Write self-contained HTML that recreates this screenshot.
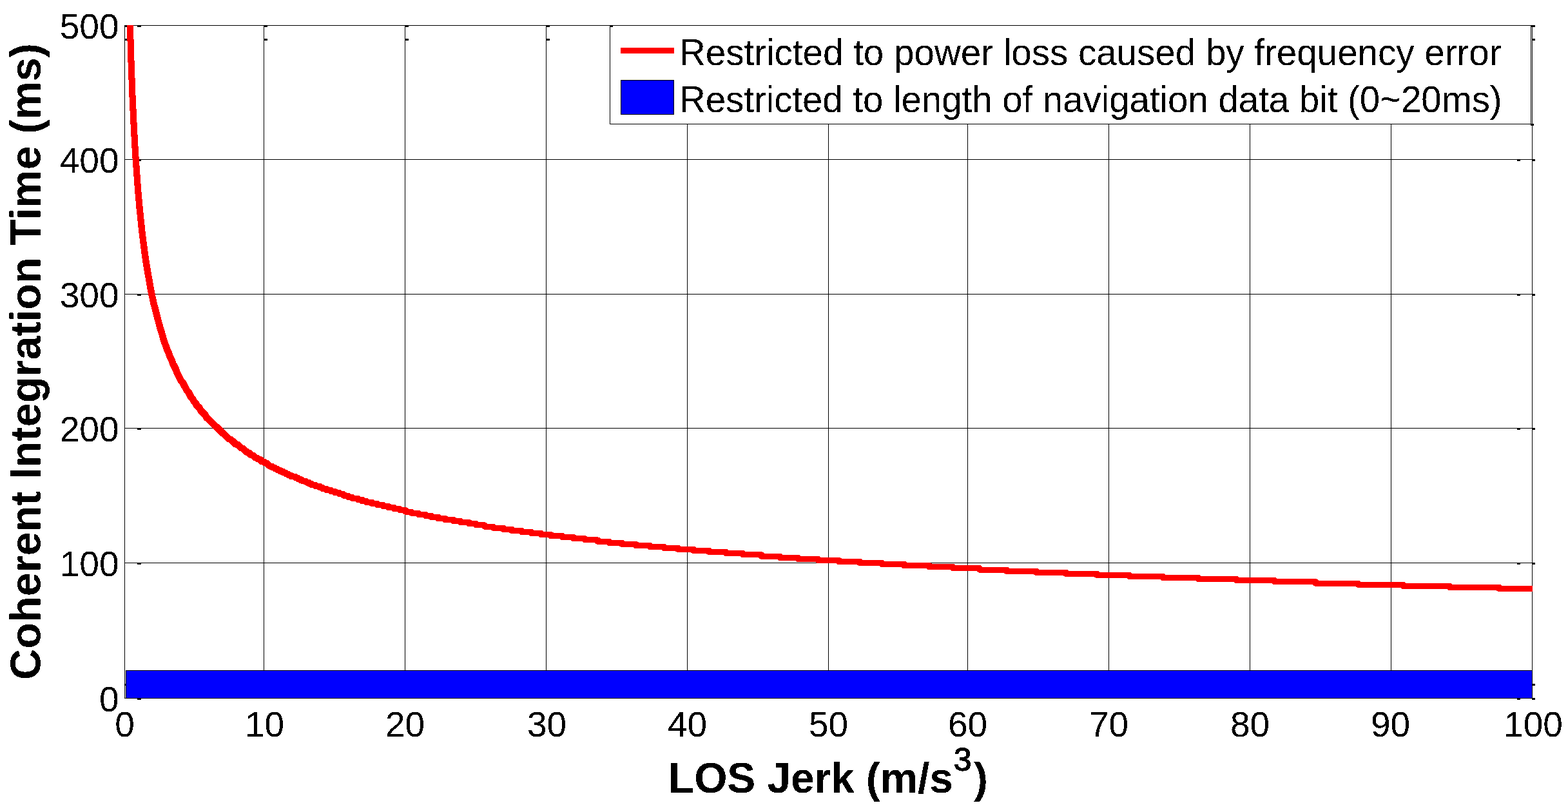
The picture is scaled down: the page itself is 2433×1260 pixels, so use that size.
<!DOCTYPE html>
<html><head><meta charset="utf-8"><style>
html,body{margin:0;padding:0;background:#fff;}
body{width:2433px;height:1260px;overflow:hidden;}
svg{display:block;}
.t{font-family:"Liberation Sans", Arial, sans-serif;}
</style></head><body>
<svg width="2433" height="1260" viewBox="0 0 2433 1260">
<rect width="2433" height="1260" fill="#fff"/>
<defs><filter id="bin" x="0" y="0" width="2433" height="1260" filterUnits="userSpaceOnUse" color-interpolation-filters="sRGB"><feComponentTransfer><feFuncA type="discrete" tableValues="0 1"/></feComponentTransfer></filter><clipPath id="ax"><rect x="193" y="39" width="2185" height="1045"/></clipPath></defs>
<g fill="#000" shape-rendering="crispEdges">
<rect x="409" y="39" width="1" height="1045"/>
<rect x="628" y="39" width="1" height="1045"/>
<rect x="847" y="39" width="1" height="1045"/>
<rect x="1066" y="39" width="1" height="1045"/>
<rect x="1285" y="39" width="1" height="1045"/>
<rect x="1501" y="39" width="1" height="1045"/>
<rect x="1720" y="39" width="1" height="1045"/>
<rect x="1939" y="39" width="1" height="1045"/>
<rect x="2158" y="39" width="1" height="1045"/>
<rect x="193" y="873" width="2185" height="1"/>
<rect x="193" y="664" width="2185" height="1"/>
<rect x="193" y="456" width="2185" height="1"/>
<rect x="193" y="247" width="2185" height="1"/>
</g>
<!-- axes box -->
<g fill="#000" shape-rendering="crispEdges">
<rect x="193" y="39" width="2185" height="1"/>
<rect x="193" y="1083" width="2185" height="1"/>
<rect x="193" y="39" width="1" height="1045"/>
<rect x="2377" y="39" width="1" height="1045"/>
<rect x="193" y="39" width="6" height="3"/>
<rect x="193" y="60" width="6" height="3"/>
<rect x="409" y="39" width="6" height="3"/>
<rect x="409" y="60" width="6" height="3"/>
<rect x="628" y="39" width="6" height="3"/>
<rect x="628" y="60" width="6" height="3"/>
<rect x="847" y="39" width="6" height="3"/>
<rect x="847" y="60" width="6" height="3"/>
<rect x="1066" y="39" width="6" height="3"/>
<rect x="1066" y="60" width="6" height="3"/>
<rect x="1285" y="39" width="6" height="3"/>
<rect x="1285" y="60" width="6" height="3"/>
<rect x="1501" y="39" width="6" height="3"/>
<rect x="1501" y="60" width="6" height="3"/>
<rect x="1720" y="39" width="6" height="3"/>
<rect x="1720" y="60" width="6" height="3"/>
<rect x="1939" y="39" width="6" height="3"/>
<rect x="1939" y="60" width="6" height="3"/>
<rect x="2158" y="39" width="6" height="3"/>
<rect x="2158" y="60" width="6" height="3"/>
<rect x="2377" y="39" width="5" height="3"/>
<rect x="2377" y="60" width="5" height="3"/>
<rect x="193" y="1061" width="2" height="3"/>
<rect x="2377" y="1061" width="5" height="3"/>
<rect x="213" y="1083" width="6" height="3"/>
<rect x="2354" y="1083" width="5" height="3"/>
<rect x="2377" y="1083" width="5" height="3"/>
<rect x="213" y="873" width="6" height="3"/>
<rect x="2354" y="873" width="5" height="3"/>
<rect x="2377" y="873" width="5" height="3"/>
<rect x="213" y="664" width="6" height="3"/>
<rect x="2354" y="664" width="5" height="3"/>
<rect x="2377" y="664" width="5" height="3"/>
<rect x="213" y="456" width="6" height="3"/>
<rect x="2354" y="456" width="5" height="3"/>
<rect x="2377" y="456" width="5" height="3"/>
<rect x="213" y="247" width="6" height="3"/>
<rect x="2354" y="247" width="5" height="3"/>
<rect x="2377" y="247" width="5" height="3"/>
<rect x="213" y="39" width="6" height="3"/>
<rect x="2354" y="39" width="5" height="3"/>
<rect x="2377" y="39" width="5" height="3"/>
</g>
<!-- blue patch -->
<rect x="195" y="1040" width="2183" height="44" fill="#000" shape-rendering="crispEdges"/>
<rect x="196" y="1041" width="2181" height="42" fill="#0000ff" shape-rendering="crispEdges"/>
<!-- red curve -->
<g clip-path="url(#ax)" fill="none" stroke="#ff0000" stroke-width="6" stroke-linejoin="round" stroke-linecap="round" shape-rendering="crispEdges">
<polyline transform="translate(-2,-1.5)" points="199.01,-93.62 201.18,14.54 203.35,91.50 205.52,149.74 207.69,195.50 209.86,235.02 212.03,266.31 214.20,295.57 216.37,320.65 218.54,341.55 220.71,362.45 222.88,379.17 225.05,395.89 227.22,410.52 229.39,423.06 231.56,435.60 233.73,448.14 235.90,458.58 238.07,468.98 240.24,477.30 242.41,485.62 244.58,493.94 246.75,502.26 248.92,510.58 251.09,516.82 253.26,525.14 255.43,531.38 257.60,537.62 259.77,543.86 261.94,548.02 264.11,554.26 266.28,558.42 268.45,564.66 270.62,568.82 272.79,572.98 274.96,579.22 277.13,583.38 279.30,587.54 281.47,591.70 283.64,593.78 285.81,597.94 287.98,602.10 290.15,606.26 292.32,608.34 294.49,612.50 296.66,616.66 298.83,618.74 301.00,622.90 303.17,624.98 305.34,629.14 307.51,631.22 309.68,633.30 311.85,637.46 314.02,639.54 316.19,641.62 318.36,643.70 320.53,647.86 322.70,649.94 324.87,652.02 327.04,654.10 329.21,656.18 331.38,658.26 333.55,660.34 335.72,662.42 337.89,664.50 340.06,666.59 342.23,668.68 344.40,670.77 346.57,672.86 348.74,674.95 350.91,677.04 353.08,679.13 355.25,681.22 357.42,681.22 359.59,683.31 361.76,685.40 363.93,687.49 366.10,689.58 368.27,689.58 370.44,691.67 372.61,693.76 374.78,695.85 376.95,695.85 379.12,697.94 381.29,700.03 383.46,702.12 385.63,702.12 387.80,704.21 389.97,706.30 392.14,706.30 394.31,708.39 396.48,710.48 398.65,710.48 400.82,712.57 402.99,712.57 405.16,714.66 407.33,716.75 409.50,716.75 411.69,718.84 413.88,718.84 416.07,720.93 418.26,723.02 420.45,723.02 422.64,725.11 424.83,725.11 427.02,727.20 429.21,727.20 431.40,729.29 433.59,729.29 435.78,731.38 437.97,731.38 440.16,733.47 442.35,733.47 444.54,735.56 446.73,735.56 448.92,737.65 451.11,737.65 453.30,739.74 457.68,739.74 459.87,741.83 462.06,741.83 464.25,743.92 466.44,743.92 468.63,746.01 473.01,746.01 475.20,748.10 477.39,748.10 479.58,750.19 481.77,750.19 483.96,752.28 488.34,752.28 490.53,754.37 494.91,754.37 497.10,756.46 499.29,756.46 501.48,758.55 505.86,758.55 508.05,760.64 512.43,760.64 514.62,762.73 519.00,762.73 521.19,764.82 525.57,764.82 527.76,766.91 532.14,766.91 534.33,769.00 538.71,769.00 540.90,771.09 545.28,771.09 547.47,773.18 554.04,773.18 556.23,775.27 560.61,775.27 562.80,777.36 567.18,777.36 569.37,779.45 575.94,779.45 578.13,781.54 584.70,781.54 586.89,783.63 593.46,783.63 595.65,785.72 602.22,785.72 604.41,787.81 610.98,787.81 613.17,789.90 619.74,789.90 621.93,791.99 628.50,791.99 630.69,794.08 637.26,794.08 639.45,796.17 648.21,796.17 650.40,798.26 659.16,798.26 661.35,800.35 667.92,800.35 670.11,802.44 678.87,802.44 681.06,804.53 689.82,804.53 692.01,806.62 702.96,806.62 705.15,808.71 713.91,808.71 716.10,810.80 727.05,810.80 729.24,812.89 738.00,812.89 740.19,814.98 751.14,814.98 753.33,817.07 764.28,817.07 766.47,819.16 779.61,819.16 781.80,821.25 792.75,821.25 794.94,823.34 808.08,823.34 810.27,825.43 823.41,825.43 825.60,827.52 838.74,827.52 840.93,829.61 854.07,829.61 856.26,831.70 871.59,831.70 873.78,833.79 889.11,833.79 891.30,835.88 906.63,835.88 908.82,837.97 926.34,837.97 928.53,840.06 943.86,840.06 946.05,842.15 963.57,842.15 965.76,844.24 985.47,844.24 987.66,846.33 1007.37,846.33 1009.56,848.42 1029.27,848.42 1031.46,850.51 1051.17,850.51 1053.36,852.60 1075.26,852.60 1077.45,854.69 1099.35,854.69 1101.54,856.78 1125.63,856.78 1127.82,858.87 1151.91,858.87 1154.10,860.96 1180.38,860.96 1182.57,863.05 1208.85,863.05 1211.04,865.14 1237.32,865.14 1239.51,867.23 1267.98,867.23 1270.17,869.32 1300.62,869.32 1302.78,871.41 1333.02,871.41 1335.18,873.50 1367.58,873.50 1369.74,875.60 1402.14,875.60 1404.30,877.70 1441.02,877.70 1443.18,879.80 1477.74,879.80 1479.90,881.90 1519.02,881.90 1521.21,884.00 1560.63,884.00 1562.82,886.10 1606.62,886.10 1608.81,888.20 1652.61,888.20 1654.80,890.30 1700.79,890.30 1702.98,892.40 1751.16,892.40 1753.35,894.50 1803.72,894.50 1805.91,896.60 1858.47,896.60 1860.66,898.70 1917.60,898.70 1919.79,900.80 1976.73,900.80 1978.92,902.90 2040.24,902.90 2042.43,905.00 2105.94,905.00 2108.13,907.10 2176.02,907.10 2178.21,909.20 2248.29,909.20 2250.48,911.30 2324.94,911.30 2327.13,913.40 2377.50,913.40"/>
<polyline transform="translate(2,-1.5)" points="199.01,-93.62 201.18,14.54 203.35,91.50 205.52,149.74 207.69,195.50 209.86,235.02 212.03,266.31 214.20,295.57 216.37,320.65 218.54,341.55 220.71,362.45 222.88,379.17 225.05,395.89 227.22,410.52 229.39,423.06 231.56,435.60 233.73,448.14 235.90,458.58 238.07,468.98 240.24,477.30 242.41,485.62 244.58,493.94 246.75,502.26 248.92,510.58 251.09,516.82 253.26,525.14 255.43,531.38 257.60,537.62 259.77,543.86 261.94,548.02 264.11,554.26 266.28,558.42 268.45,564.66 270.62,568.82 272.79,572.98 274.96,579.22 277.13,583.38 279.30,587.54 281.47,591.70 283.64,593.78 285.81,597.94 287.98,602.10 290.15,606.26 292.32,608.34 294.49,612.50 296.66,616.66 298.83,618.74 301.00,622.90 303.17,624.98 305.34,629.14 307.51,631.22 309.68,633.30 311.85,637.46 314.02,639.54 316.19,641.62 318.36,643.70 320.53,647.86 322.70,649.94 324.87,652.02 327.04,654.10 329.21,656.18 331.38,658.26 333.55,660.34 335.72,662.42 337.89,664.50 340.06,666.59 342.23,668.68 344.40,670.77 346.57,672.86 348.74,674.95 350.91,677.04 353.08,679.13 355.25,681.22 357.42,681.22 359.59,683.31 361.76,685.40 363.93,687.49 366.10,689.58 368.27,689.58 370.44,691.67 372.61,693.76 374.78,695.85 376.95,695.85 379.12,697.94 381.29,700.03 383.46,702.12 385.63,702.12 387.80,704.21 389.97,706.30 392.14,706.30 394.31,708.39 396.48,710.48 398.65,710.48 400.82,712.57 402.99,712.57 405.16,714.66 407.33,716.75 409.50,716.75 411.69,718.84 413.88,718.84 416.07,720.93 418.26,723.02 420.45,723.02 422.64,725.11 424.83,725.11 427.02,727.20 429.21,727.20 431.40,729.29 433.59,729.29 435.78,731.38 437.97,731.38 440.16,733.47 442.35,733.47 444.54,735.56 446.73,735.56 448.92,737.65 451.11,737.65 453.30,739.74 457.68,739.74 459.87,741.83 462.06,741.83 464.25,743.92 466.44,743.92 468.63,746.01 473.01,746.01 475.20,748.10 477.39,748.10 479.58,750.19 481.77,750.19 483.96,752.28 488.34,752.28 490.53,754.37 494.91,754.37 497.10,756.46 499.29,756.46 501.48,758.55 505.86,758.55 508.05,760.64 512.43,760.64 514.62,762.73 519.00,762.73 521.19,764.82 525.57,764.82 527.76,766.91 532.14,766.91 534.33,769.00 538.71,769.00 540.90,771.09 545.28,771.09 547.47,773.18 554.04,773.18 556.23,775.27 560.61,775.27 562.80,777.36 567.18,777.36 569.37,779.45 575.94,779.45 578.13,781.54 584.70,781.54 586.89,783.63 593.46,783.63 595.65,785.72 602.22,785.72 604.41,787.81 610.98,787.81 613.17,789.90 619.74,789.90 621.93,791.99 628.50,791.99 630.69,794.08 637.26,794.08 639.45,796.17 648.21,796.17 650.40,798.26 659.16,798.26 661.35,800.35 667.92,800.35 670.11,802.44 678.87,802.44 681.06,804.53 689.82,804.53 692.01,806.62 702.96,806.62 705.15,808.71 713.91,808.71 716.10,810.80 727.05,810.80 729.24,812.89 738.00,812.89 740.19,814.98 751.14,814.98 753.33,817.07 764.28,817.07 766.47,819.16 779.61,819.16 781.80,821.25 792.75,821.25 794.94,823.34 808.08,823.34 810.27,825.43 823.41,825.43 825.60,827.52 838.74,827.52 840.93,829.61 854.07,829.61 856.26,831.70 871.59,831.70 873.78,833.79 889.11,833.79 891.30,835.88 906.63,835.88 908.82,837.97 926.34,837.97 928.53,840.06 943.86,840.06 946.05,842.15 963.57,842.15 965.76,844.24 985.47,844.24 987.66,846.33 1007.37,846.33 1009.56,848.42 1029.27,848.42 1031.46,850.51 1051.17,850.51 1053.36,852.60 1075.26,852.60 1077.45,854.69 1099.35,854.69 1101.54,856.78 1125.63,856.78 1127.82,858.87 1151.91,858.87 1154.10,860.96 1180.38,860.96 1182.57,863.05 1208.85,863.05 1211.04,865.14 1237.32,865.14 1239.51,867.23 1267.98,867.23 1270.17,869.32 1300.62,869.32 1302.78,871.41 1333.02,871.41 1335.18,873.50 1367.58,873.50 1369.74,875.60 1402.14,875.60 1404.30,877.70 1441.02,877.70 1443.18,879.80 1477.74,879.80 1479.90,881.90 1519.02,881.90 1521.21,884.00 1560.63,884.00 1562.82,886.10 1606.62,886.10 1608.81,888.20 1652.61,888.20 1654.80,890.30 1700.79,890.30 1702.98,892.40 1751.16,892.40 1753.35,894.50 1803.72,894.50 1805.91,896.60 1858.47,896.60 1860.66,898.70 1917.60,898.70 1919.79,900.80 1976.73,900.80 1978.92,902.90 2040.24,902.90 2042.43,905.00 2105.94,905.00 2108.13,907.10 2176.02,907.10 2178.21,909.20 2248.29,909.20 2250.48,911.30 2324.94,911.30 2327.13,913.40 2377.50,913.40"/>
<polyline transform="translate(-2,1.5)" points="199.01,-93.62 201.18,14.54 203.35,91.50 205.52,149.74 207.69,195.50 209.86,235.02 212.03,266.31 214.20,295.57 216.37,320.65 218.54,341.55 220.71,362.45 222.88,379.17 225.05,395.89 227.22,410.52 229.39,423.06 231.56,435.60 233.73,448.14 235.90,458.58 238.07,468.98 240.24,477.30 242.41,485.62 244.58,493.94 246.75,502.26 248.92,510.58 251.09,516.82 253.26,525.14 255.43,531.38 257.60,537.62 259.77,543.86 261.94,548.02 264.11,554.26 266.28,558.42 268.45,564.66 270.62,568.82 272.79,572.98 274.96,579.22 277.13,583.38 279.30,587.54 281.47,591.70 283.64,593.78 285.81,597.94 287.98,602.10 290.15,606.26 292.32,608.34 294.49,612.50 296.66,616.66 298.83,618.74 301.00,622.90 303.17,624.98 305.34,629.14 307.51,631.22 309.68,633.30 311.85,637.46 314.02,639.54 316.19,641.62 318.36,643.70 320.53,647.86 322.70,649.94 324.87,652.02 327.04,654.10 329.21,656.18 331.38,658.26 333.55,660.34 335.72,662.42 337.89,664.50 340.06,666.59 342.23,668.68 344.40,670.77 346.57,672.86 348.74,674.95 350.91,677.04 353.08,679.13 355.25,681.22 357.42,681.22 359.59,683.31 361.76,685.40 363.93,687.49 366.10,689.58 368.27,689.58 370.44,691.67 372.61,693.76 374.78,695.85 376.95,695.85 379.12,697.94 381.29,700.03 383.46,702.12 385.63,702.12 387.80,704.21 389.97,706.30 392.14,706.30 394.31,708.39 396.48,710.48 398.65,710.48 400.82,712.57 402.99,712.57 405.16,714.66 407.33,716.75 409.50,716.75 411.69,718.84 413.88,718.84 416.07,720.93 418.26,723.02 420.45,723.02 422.64,725.11 424.83,725.11 427.02,727.20 429.21,727.20 431.40,729.29 433.59,729.29 435.78,731.38 437.97,731.38 440.16,733.47 442.35,733.47 444.54,735.56 446.73,735.56 448.92,737.65 451.11,737.65 453.30,739.74 457.68,739.74 459.87,741.83 462.06,741.83 464.25,743.92 466.44,743.92 468.63,746.01 473.01,746.01 475.20,748.10 477.39,748.10 479.58,750.19 481.77,750.19 483.96,752.28 488.34,752.28 490.53,754.37 494.91,754.37 497.10,756.46 499.29,756.46 501.48,758.55 505.86,758.55 508.05,760.64 512.43,760.64 514.62,762.73 519.00,762.73 521.19,764.82 525.57,764.82 527.76,766.91 532.14,766.91 534.33,769.00 538.71,769.00 540.90,771.09 545.28,771.09 547.47,773.18 554.04,773.18 556.23,775.27 560.61,775.27 562.80,777.36 567.18,777.36 569.37,779.45 575.94,779.45 578.13,781.54 584.70,781.54 586.89,783.63 593.46,783.63 595.65,785.72 602.22,785.72 604.41,787.81 610.98,787.81 613.17,789.90 619.74,789.90 621.93,791.99 628.50,791.99 630.69,794.08 637.26,794.08 639.45,796.17 648.21,796.17 650.40,798.26 659.16,798.26 661.35,800.35 667.92,800.35 670.11,802.44 678.87,802.44 681.06,804.53 689.82,804.53 692.01,806.62 702.96,806.62 705.15,808.71 713.91,808.71 716.10,810.80 727.05,810.80 729.24,812.89 738.00,812.89 740.19,814.98 751.14,814.98 753.33,817.07 764.28,817.07 766.47,819.16 779.61,819.16 781.80,821.25 792.75,821.25 794.94,823.34 808.08,823.34 810.27,825.43 823.41,825.43 825.60,827.52 838.74,827.52 840.93,829.61 854.07,829.61 856.26,831.70 871.59,831.70 873.78,833.79 889.11,833.79 891.30,835.88 906.63,835.88 908.82,837.97 926.34,837.97 928.53,840.06 943.86,840.06 946.05,842.15 963.57,842.15 965.76,844.24 985.47,844.24 987.66,846.33 1007.37,846.33 1009.56,848.42 1029.27,848.42 1031.46,850.51 1051.17,850.51 1053.36,852.60 1075.26,852.60 1077.45,854.69 1099.35,854.69 1101.54,856.78 1125.63,856.78 1127.82,858.87 1151.91,858.87 1154.10,860.96 1180.38,860.96 1182.57,863.05 1208.85,863.05 1211.04,865.14 1237.32,865.14 1239.51,867.23 1267.98,867.23 1270.17,869.32 1300.62,869.32 1302.78,871.41 1333.02,871.41 1335.18,873.50 1367.58,873.50 1369.74,875.60 1402.14,875.60 1404.30,877.70 1441.02,877.70 1443.18,879.80 1477.74,879.80 1479.90,881.90 1519.02,881.90 1521.21,884.00 1560.63,884.00 1562.82,886.10 1606.62,886.10 1608.81,888.20 1652.61,888.20 1654.80,890.30 1700.79,890.30 1702.98,892.40 1751.16,892.40 1753.35,894.50 1803.72,894.50 1805.91,896.60 1858.47,896.60 1860.66,898.70 1917.60,898.70 1919.79,900.80 1976.73,900.80 1978.92,902.90 2040.24,902.90 2042.43,905.00 2105.94,905.00 2108.13,907.10 2176.02,907.10 2178.21,909.20 2248.29,909.20 2250.48,911.30 2324.94,911.30 2327.13,913.40 2377.50,913.40"/>
<polyline transform="translate(2,1.5)" points="199.01,-93.62 201.18,14.54 203.35,91.50 205.52,149.74 207.69,195.50 209.86,235.02 212.03,266.31 214.20,295.57 216.37,320.65 218.54,341.55 220.71,362.45 222.88,379.17 225.05,395.89 227.22,410.52 229.39,423.06 231.56,435.60 233.73,448.14 235.90,458.58 238.07,468.98 240.24,477.30 242.41,485.62 244.58,493.94 246.75,502.26 248.92,510.58 251.09,516.82 253.26,525.14 255.43,531.38 257.60,537.62 259.77,543.86 261.94,548.02 264.11,554.26 266.28,558.42 268.45,564.66 270.62,568.82 272.79,572.98 274.96,579.22 277.13,583.38 279.30,587.54 281.47,591.70 283.64,593.78 285.81,597.94 287.98,602.10 290.15,606.26 292.32,608.34 294.49,612.50 296.66,616.66 298.83,618.74 301.00,622.90 303.17,624.98 305.34,629.14 307.51,631.22 309.68,633.30 311.85,637.46 314.02,639.54 316.19,641.62 318.36,643.70 320.53,647.86 322.70,649.94 324.87,652.02 327.04,654.10 329.21,656.18 331.38,658.26 333.55,660.34 335.72,662.42 337.89,664.50 340.06,666.59 342.23,668.68 344.40,670.77 346.57,672.86 348.74,674.95 350.91,677.04 353.08,679.13 355.25,681.22 357.42,681.22 359.59,683.31 361.76,685.40 363.93,687.49 366.10,689.58 368.27,689.58 370.44,691.67 372.61,693.76 374.78,695.85 376.95,695.85 379.12,697.94 381.29,700.03 383.46,702.12 385.63,702.12 387.80,704.21 389.97,706.30 392.14,706.30 394.31,708.39 396.48,710.48 398.65,710.48 400.82,712.57 402.99,712.57 405.16,714.66 407.33,716.75 409.50,716.75 411.69,718.84 413.88,718.84 416.07,720.93 418.26,723.02 420.45,723.02 422.64,725.11 424.83,725.11 427.02,727.20 429.21,727.20 431.40,729.29 433.59,729.29 435.78,731.38 437.97,731.38 440.16,733.47 442.35,733.47 444.54,735.56 446.73,735.56 448.92,737.65 451.11,737.65 453.30,739.74 457.68,739.74 459.87,741.83 462.06,741.83 464.25,743.92 466.44,743.92 468.63,746.01 473.01,746.01 475.20,748.10 477.39,748.10 479.58,750.19 481.77,750.19 483.96,752.28 488.34,752.28 490.53,754.37 494.91,754.37 497.10,756.46 499.29,756.46 501.48,758.55 505.86,758.55 508.05,760.64 512.43,760.64 514.62,762.73 519.00,762.73 521.19,764.82 525.57,764.82 527.76,766.91 532.14,766.91 534.33,769.00 538.71,769.00 540.90,771.09 545.28,771.09 547.47,773.18 554.04,773.18 556.23,775.27 560.61,775.27 562.80,777.36 567.18,777.36 569.37,779.45 575.94,779.45 578.13,781.54 584.70,781.54 586.89,783.63 593.46,783.63 595.65,785.72 602.22,785.72 604.41,787.81 610.98,787.81 613.17,789.90 619.74,789.90 621.93,791.99 628.50,791.99 630.69,794.08 637.26,794.08 639.45,796.17 648.21,796.17 650.40,798.26 659.16,798.26 661.35,800.35 667.92,800.35 670.11,802.44 678.87,802.44 681.06,804.53 689.82,804.53 692.01,806.62 702.96,806.62 705.15,808.71 713.91,808.71 716.10,810.80 727.05,810.80 729.24,812.89 738.00,812.89 740.19,814.98 751.14,814.98 753.33,817.07 764.28,817.07 766.47,819.16 779.61,819.16 781.80,821.25 792.75,821.25 794.94,823.34 808.08,823.34 810.27,825.43 823.41,825.43 825.60,827.52 838.74,827.52 840.93,829.61 854.07,829.61 856.26,831.70 871.59,831.70 873.78,833.79 889.11,833.79 891.30,835.88 906.63,835.88 908.82,837.97 926.34,837.97 928.53,840.06 943.86,840.06 946.05,842.15 963.57,842.15 965.76,844.24 985.47,844.24 987.66,846.33 1007.37,846.33 1009.56,848.42 1029.27,848.42 1031.46,850.51 1051.17,850.51 1053.36,852.60 1075.26,852.60 1077.45,854.69 1099.35,854.69 1101.54,856.78 1125.63,856.78 1127.82,858.87 1151.91,858.87 1154.10,860.96 1180.38,860.96 1182.57,863.05 1208.85,863.05 1211.04,865.14 1237.32,865.14 1239.51,867.23 1267.98,867.23 1270.17,869.32 1300.62,869.32 1302.78,871.41 1333.02,871.41 1335.18,873.50 1367.58,873.50 1369.74,875.60 1402.14,875.60 1404.30,877.70 1441.02,877.70 1443.18,879.80 1477.74,879.80 1479.90,881.90 1519.02,881.90 1521.21,884.00 1560.63,884.00 1562.82,886.10 1606.62,886.10 1608.81,888.20 1652.61,888.20 1654.80,890.30 1700.79,890.30 1702.98,892.40 1751.16,892.40 1753.35,894.50 1803.72,894.50 1805.91,896.60 1858.47,896.60 1860.66,898.70 1917.60,898.70 1919.79,900.80 1976.73,900.80 1978.92,902.90 2040.24,902.90 2042.43,905.00 2105.94,905.00 2108.13,907.10 2176.02,907.10 2178.21,909.20 2248.29,909.20 2250.48,911.30 2324.94,911.30 2327.13,913.40 2377.50,913.40"/>
</g>
<!-- legend -->
<rect x="946.5" y="39.5" width="1429" height="153" fill="#fff" stroke="#000" stroke-width="1"/>
<rect x="963" y="74" width="83" height="9" fill="#ff0000" shape-rendering="crispEdges"/>
<rect x="963" y="124" width="83" height="54" fill="#000" shape-rendering="crispEdges"/>
<rect x="964" y="125" width="81" height="52" fill="#0000ff" shape-rendering="crispEdges"/>
<rect x="946" y="39" width="5" height="3" fill="#000" shape-rendering="crispEdges"/>
<rect x="2375" y="192" width="5" height="3" fill="#000" shape-rendering="crispEdges"/>
<rect x="2375" y="39" width="3" height="3" fill="#000" shape-rendering="crispEdges"/>
<g filter="url(#bin)">
<g class="t" font-size="56.5" fill="#000">
<text x="1054" y="101" textLength="1275.6" lengthAdjust="spacing">Restricted to power loss caused by frequency error</text>
<text x="1054" y="174" textLength="1276.7" lengthAdjust="spacing">Restricted to length of navigation data bit (0~20ms)</text>
</g>
<g class="t" font-size="55" fill="#000">
<text transform="translate(184.5,1103.5) scale(1,1)" text-anchor="end">0</text>
<text transform="translate(184.5,893.5) scale(1,1)" text-anchor="end">100</text>
<text transform="translate(184.5,684.5) scale(1,1)" text-anchor="end">200</text>
<text transform="translate(184.5,476.5) scale(1,1)" text-anchor="end">300</text>
<text transform="translate(184.5,267.5) scale(1,1)" text-anchor="end">400</text>
<text transform="translate(184.5,59.5) scale(1,1)" text-anchor="end">500</text>
<text transform="translate(193.5,1143.3) scale(1,1)" text-anchor="middle">0</text>
<text transform="translate(410.5,1143.3) scale(1,1)" text-anchor="middle">10</text>
<text transform="translate(628.5,1143.3) scale(1,1)" text-anchor="middle">20</text>
<text transform="translate(848.5,1143.3) scale(1,1)" text-anchor="middle">30</text>
<text transform="translate(1066.5,1143.3) scale(1,1)" text-anchor="middle">40</text>
<text transform="translate(1285.5,1143.3) scale(1,1)" text-anchor="middle">50</text>
<text transform="translate(1501.5,1143.3) scale(1,1)" text-anchor="middle">60</text>
<text transform="translate(1720.5,1143.3) scale(1,1)" text-anchor="middle">70</text>
<text transform="translate(1939.5,1143.3) scale(1,1)" text-anchor="middle">80</text>
<text transform="translate(2157.5,1143.3) scale(1,1)" text-anchor="middle">90</text>
<text transform="translate(2379.0,1143.3) scale(1,1)" text-anchor="middle">100</text>
</g>
<text class="t" x="1037" y="1230" font-size="66" font-weight="bold" textLength="442" lengthAdjust="spacing">LOS Jerk (m/s</text><text class="t" x="1479.8" y="1196.3" font-size="50" stroke="#000" stroke-width="1.3">3</text><text class="t" x="1511" y="1229.5" font-size="66" font-weight="bold">)</text>
<text class="t" transform="translate(62.5,1055) rotate(-90)" x="0" y="0" font-size="66.7" font-weight="bold">Coherent Integration Time (ms)</text>
</g>
</svg>
</body></html>
